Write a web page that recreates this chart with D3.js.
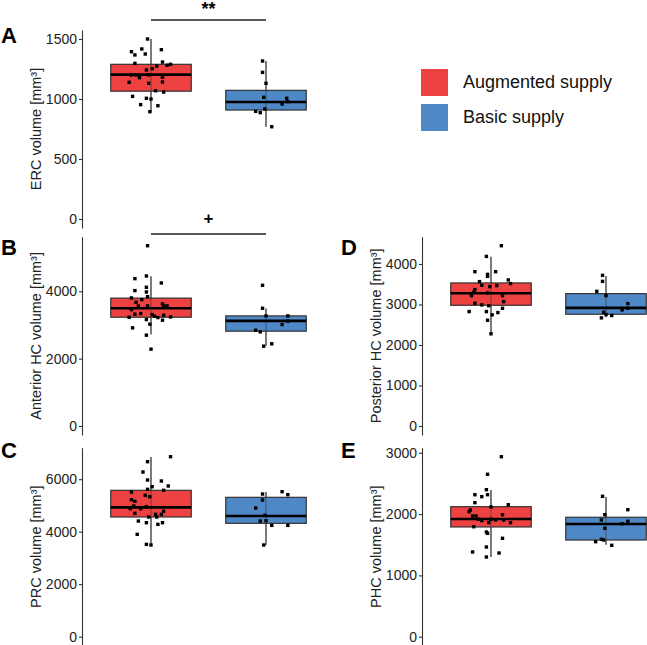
<!DOCTYPE html>
<html><head><meta charset="utf-8">
<script src="https://cdn.jsdelivr.net/npm/d3@7"></script>
<style>
body{margin:0;background:#fff}
svg{display:block;font-family:"Liberation Sans",Arial,Helvetica,sans-serif}
</style>
</head><body>
<svg id="chart" width="647" height="645"></svg>
<script>
// ---------- DATA ----------
const groups = ["Augmented supply", "Basic supply"];
const groupColors = ["#EE4242", "#4F88C6"];

// box stats: [q1, median, q3, whiskerLow, whiskerHigh]
const ercBoxes  = [[1065, 1203, 1289, 890, 1500], [908, 975, 1072, 769, 1317]];
const ahcBoxes  = [[3229, 3496, 3797, 2716, 4444], [2815, 3121, 3269, 2380, 3486]];
const prcBoxes  = [[4560, 4928, 5576, 3493, 6845], [4319, 4597, 5309, 3493, 5512]];
const phcBoxes  = [[2980, 3276, 3532, 2266, 4180], [2759, 2916, 3268, 2685, 3704]];
const parBoxes  = [[1790, 1920, 2121, 1300, 2393], [1577, 1838, 1948, 1501, 2279]];

// individual subjects: [jitter (fraction of category step), value]
const ercAug = [[-0.03,1500],[-0.17,1394],[-0.14,1367],[-0.08,1417],[-0.05,1375],[0.09,1411],[-0.14,1297],[0.10,1308],[0.14,1281],[0.17,1289],[-0.04,1242],[0.01,1253],[0.05,1275],[-0.17,1200],[-0.13,1200],[-0.10,1178],[-0.02,1200],[-0.19,1139],[-0.02,1131],[0.10,1181],[0.10,1142],[0.04,1069],[0.11,1058],[-0.16,1022],[-0.04,1006],[0.00,1000],[-0.09,953],[0.06,944],[-0.01,894]];
const ercBas = [[-0.03,1317],[-0.03,1222],[0.00,1131],[-0.02,1014],[0.18,1006],[0.19,978],[0.14,958],[-0.01,917],[-0.09,897],[-0.05,886],[0.05,769]];

const ahcAug = [[-0.03,5353],[-0.14,4375],[-0.04,4454],[0.09,4247],[-0.14,4020],[-0.04,4119],[-0.04,3980],[-0.17,3802],[-0.03,3842],[-0.08,3753],[-0.13,3674],[-0.11,3565],[-0.03,3565],[-0.17,3457],[0.10,3624],[0.11,3565],[0.14,3565],[-0.14,3319],[-0.09,3338],[0.01,3309],[0.03,3259],[0.06,3220],[0.11,3289],[0.17,3239],[-0.19,3229],[-0.04,3160],[0.10,3141],[-0.01,3022],[-0.16,2914],[-0.04,2696],[0.00,2281]];
const ahcBas = [[-0.03,4178],[-0.03,3496],[0.00,3269],[0.19,3269],[0.19,3111],[0.14,3012],[-0.09,2844],[-0.05,2795],[-0.02,2370],[0.05,2440]];

const prcAug = [[0.17,6857],[-0.03,6667],[-0.07,6274],[-0.03,5969],[0.09,5931],[0.01,5714],[0.15,5741],[-0.03,5614],[0.11,5576],[-0.17,5512],[-0.05,5385],[-0.01,5333],[-0.17,5219],[-0.14,5157],[-0.15,4979],[-0.18,4876],[-0.09,4876],[-0.04,4952],[-0.14,4700],[0.11,4777],[0.09,4661],[0.04,4661],[0.05,4560],[-0.02,4560],[-0.11,4406],[-0.04,4343],[0.10,4343],[0.06,4280],[-0.12,3899],[-0.04,3518],[0.00,3493]];
const prcBas = [[0.14,5524],[0.19,5410],[-0.03,5435],[-0.03,5206],[-0.09,4902],[-0.01,4623],[-0.05,4406],[0.00,4419],[0.05,4242],[0.19,4242],[-0.02,3493]];

const phcAug = [[0.09,4451],[-0.04,4187],[-0.14,3810],[0.04,3810],[-0.03,3744],[-0.03,3695],[-0.10,3564],[0.15,3606],[0.17,3515],[-0.08,3473],[-0.01,3441],[0.05,3466],[-0.14,3367],[-0.15,3300],[-0.17,3261],[-0.17,3219],[-0.03,3286],[0.10,3219],[0.11,3071],[-0.14,3030],[-0.08,2990],[-0.02,2970],[0.10,2906],[-0.19,2825],[-0.04,2825],[0.06,2800],[0.01,2744],[-0.03,2611],[0.00,2276]];
const phcBas = [[-0.03,3719],[-0.03,3571],[-0.08,3325],[0.00,3219],[0.19,3022],[0.19,2906],[0.14,2867],[-0.02,2808],[0.00,2751],[0.05,2727],[-0.04,2670]];

const parAug = [[0.09,2936],[-0.03,2649],[-0.04,2398],[-0.14,2316],[-0.08,2284],[-0.03,2316],[-0.14,2186],[0.15,2153],[0.00,2116],[-0.18,2067],[-0.19,2039],[-0.16,1969],[-0.13,1969],[0.10,1990],[-0.11,1915],[-0.08,1892],[0.00,1915],[0.04,1904],[0.11,1904],[-0.02,1860],[0.17,1860],[-0.15,1794],[-0.04,1708],[-0.03,1686],[0.10,1605],[-0.04,1463],[-0.16,1382],[0.07,1365],[-0.04,1300]];
const parBas = [[-0.03,2290],[0.19,2072],[-0.01,1990],[-0.04,1904],[0.19,1882],[0.14,1843],[-0.01,1768],[-0.04,1589],[-0.02,1577],[-0.09,1550],[0.05,1491]];

const ercTicks = [0, 500, 1000, 1500];
const ahcTicks = [0, 2000, 4000];
const prcTicks = [0, 2000, 4000, 6000];
const phcTicks = [0, 1000, 2000, 3000, 4000];
const parTicks = [0, 1000, 2000, 3000];

const panelLetters = ["A", "B", "C", "D", "E"];
const yTitles = ["ERC volume [mm³]", "Anterior HC volume [mm³]", "PRC volume [mm³]",
                 "Posterior HC volume [mm³]", "PHC volume [mm³]"];
const sigLabels = ["**", "+", null, null, null];

// ---------- LAYOUT ----------
const layout = [
  {x: 82,  top: 30,    bottom: 228,   letterX: 1,   letterY: 43},
  {x: 82,  top: 236.7, bottom: 435,   letterX: 1,   letterY: 255},
  {x: 82,  top: 447.7, bottom: 645.7, letterX: 1,   letterY: 458},
  {x: 422, top: 236.7, bottom: 435,   letterX: 341, letterY: 255},
  {x: 422, top: 447.7, bottom: 645.7, letterX: 341, letterY: 458}
];
const sigLayout = [{barY: 20, textY: 15, size: 18}, {barY: 234, textY: 224, size: 17}];

const panels = [
  {boxes: ercBoxes, pts: [ercAug, ercBas], ticks: ercTicks},
  {boxes: ahcBoxes, pts: [ahcAug, ahcBas], ticks: ahcTicks},
  {boxes: prcBoxes, pts: [prcAug, prcBas], ticks: prcTicks},
  {boxes: phcBoxes, pts: [phcAug, phcBas], ticks: phcTicks},
  {boxes: parBoxes, pts: [parAug, parBas], ticks: parTicks}
];

const svg = d3.select("#chart");
const panelWidth = 253;

panels.forEach((p, i) => {
  const L = layout[i];
  const g = svg.append("g");
  const maxV = d3.max([...p.pts[0], ...p.pts[1]], d => d[1]);
  const y = d3.scaleLinear().domain([-0.05 * maxV, 1.05 * maxV]).range([L.bottom, L.top]);
  const x = d3.scalePoint().domain(groups).range([L.x, L.x + panelWidth]).padding(0.6);
  const step = x.step();
  const bw = 0.7 * step;

  groups.forEach((grp, gi) => {
    const b = p.boxes[gi];
    const cx = x(grp);
    g.append("line")
      .attr("x1", cx).attr("x2", cx)
      .attr("y1", y(b[3])).attr("y2", y(b[4]))
      .attr("stroke", "#333").attr("stroke-width", 1.3);
    g.append("rect")
      .attr("x", cx - bw / 2).attr("width", bw)
      .attr("y", y(b[2])).attr("height", y(b[0]) - y(b[2]))
      .attr("fill", groupColors[gi])
      .attr("stroke", "#333").attr("stroke-width", 1.2);
    g.append("line")
      .attr("x1", cx).attr("x2", cx)
      .attr("y1", y(b[2])).attr("y2", y(b[0]))
      .attr("stroke", "#333").attr("stroke-width", 1.0).attr("opacity", 0.6);
    g.append("line")
      .attr("x1", cx - bw / 2).attr("x2", cx + bw / 2)
      .attr("y1", y(b[1])).attr("y2", y(b[1]))
      .attr("stroke", "#000").attr("stroke-width", 2.6);
    const s = 3.4;
    g.selectAll(null).data(p.pts[gi]).enter().append("rect")
      .attr("x", d => cx + d[0] * step - s / 2)
      .attr("y", d => y(d[1]) - s / 2)
      .attr("width", s).attr("height", s)
      .attr("fill", "#000");
  });

  const ax = g.append("g").attr("transform", `translate(${L.x},0)`)
    .call(d3.axisLeft(y).tickValues(p.ticks).tickFormat(d3.format("d"))
      .tickSize(3).tickSizeOuter(0).tickPadding(2));
  ax.select(".domain").attr("stroke", "#333").attr("stroke-width", 1.1);
  ax.selectAll(".tick line").attr("stroke", "#333").attr("stroke-width", 1.1);
  ax.selectAll(".tick text").attr("font-size", 14).attr("fill", "#222")
    .attr("font-family", '"Liberation Sans",Arial,sans-serif');

  g.append("text")
    .attr("transform", `translate(${L.x - 41},${(L.top + L.bottom) / 2}) rotate(-90)`)
    .attr("text-anchor", "middle")
    .attr("font-size", 14.5).attr("fill", "#222")
    .text(yTitles[i]);

  svg.append("text")
    .attr("x", L.letterX).attr("y", L.letterY)
    .attr("font-size", 22).attr("font-weight", "bold")
    .text(panelLetters[i]);

  if (sigLabels[i]) {
    const S = sigLayout[i];
    const x1 = x(groups[0]), x2 = x(groups[1]);
    svg.append("line")
      .attr("x1", x1).attr("x2", x2).attr("y1", S.barY).attr("y2", S.barY)
      .attr("stroke", "#222").attr("stroke-width", 1.3);
    svg.append("text")
      .attr("x", (x1 + x2) / 2).attr("y", S.textY)
      .attr("text-anchor", "middle").attr("font-size", S.size).attr("font-weight", "bold")
      .text(sigLabels[i]);
  }
});

const legend = svg.append("g");
const legY = [69, 104];
groups.forEach((grp, gi) => {
  legend.append("rect")
    .attr("x", 421).attr("y", legY[gi]).attr("width", 27).attr("height", 27)
    .attr("fill", groupColors[gi]);
  legend.append("text")
    .attr("x", 463).attr("y", legY[gi] + 19)
    .attr("font-size", 18).attr("fill", "#111")
    .text(grp);
});
</script>
</body></html>
